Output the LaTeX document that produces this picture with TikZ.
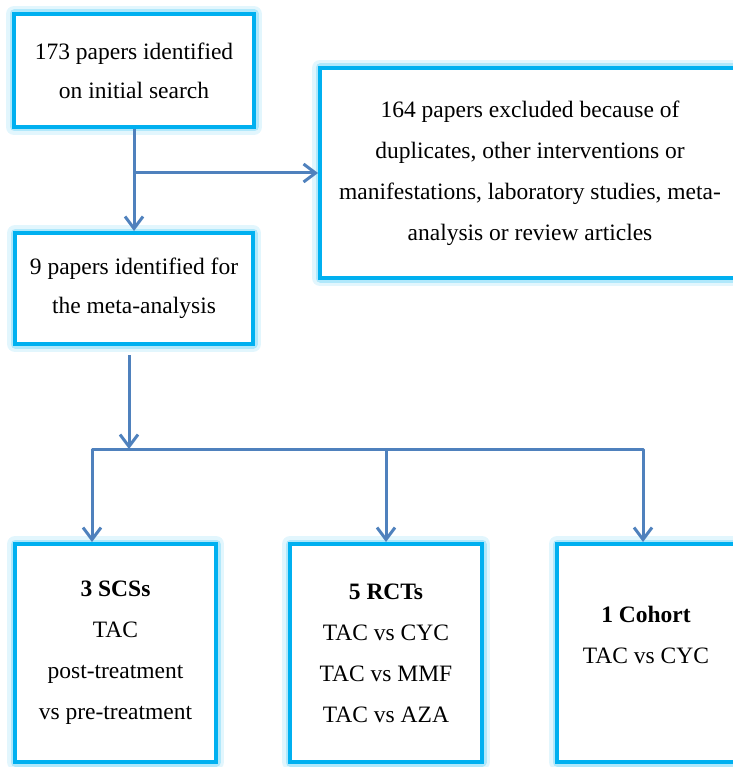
\documentclass[tikz,border=0pt]{standalone}
\usepackage{fontspec}
\setmainfont{Liberation Serif}
\usetikzlibrary{positioning,arrows.meta}
\definecolor{linkblue}{HTML}{4F81BD}
\definecolor{boxblue}{HTML}{00B0F0}
\definecolor{glowout}{HTML}{E2F6FD}
\definecolor{glowin}{HTML}{B0E8FB}

\tikzset{
  box/.style={draw=boxblue, line width=4pt, fill=white, align=center,
    inner sep=6pt,
    preaction={draw=glowout, line width=16pt, line join=round},
    preaction={draw=glowin, line width=9pt, line join=round},
    font=\fontsize{23.5pt}{41pt}\selectfont},
  topbox/.style={box, font=\fontsize{23.5pt}{39pt}\selectfont},
  link/.style={draw=linkblue, line width=3pt, line join=round},
}

\begin{document}
\begin{tikzpicture}[x=1pt, y=1pt,
    >={Straight Barb[length=12pt,width=18pt]}]
    \useasboundingbox (0,0) rectangle (732,-767);

    % boxes
    \node[topbox, minimum width=240pt, minimum height=113pt] (search) at (134,-70.5)
        {173 papers identified\\on initial search};
    \node[box, minimum width=420pt, minimum height=210pt] (excl) at (530,-173)
        {164 papers excluded because of\\duplicates, other interventions or\\manifestations, laboratory studies, meta-\\analysis or review articles};
    \node[topbox, minimum width=238pt, minimum height=111pt] (meta) at (134,-288.5)
        {9 papers identified for\\the meta-analysis};

    \node[box, minimum width=201pt, minimum height=218pt] (scs) at (115.5,-653)
        {\textbf{3 SCSs}\\TAC\\post-treatment\\vs pre-treatment};
    \node[box, minimum width=192pt, minimum height=218pt] (rct) [right=70pt of scs]
        {\textbf{5 RCTs}\\TAC vs CYC\\TAC vs MMF\\TAC vs AZA};
    \node[box, minimum width=178pt, minimum height=218pt] (cohort) [right=71pt of rct] {};
    \node[align=center, font=\fontsize{23.5pt}{41pt}\selectfont, yshift=18pt] (cohorttxt) at (cohort)
        {\textbf{1 Cohort}\\TAC vs CYC};

    % connectors
    \coordinate (split) at (search.south |- excl.west);
    \coordinate (hub) at (129,-449);
    \coordinate (barL) at (92,-449);
    \coordinate (barR) at (643,-449);

    \draw[link,->] (search.south) -- (meta.north);
    \draw[link,->] (split) -- (excl.west);
    \draw[link,->,shorten <=9pt] (meta.south -| hub) -- (hub);
    \draw[link,->] (rct.north |- barL) -- (barL) -- (barL |- scs.north);
    \draw[link,->] (rct.north |- barL) -- (barR) -- (barR |- cohort.north);
    \draw[link,->] (rct.north |- barL) -- (rct.north);
\end{tikzpicture}
\end{document}
